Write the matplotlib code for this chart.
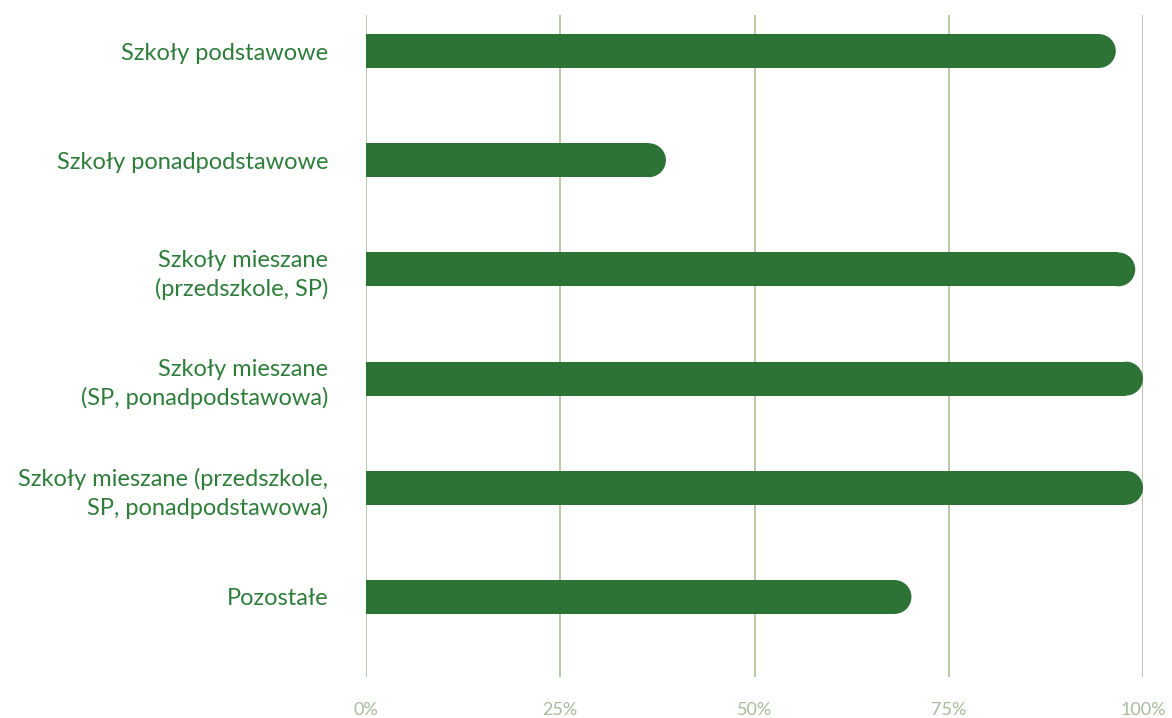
import matplotlib
matplotlib.use("Agg")
import matplotlib.pyplot as plt
import numpy as np
from matplotlib.patches import Rectangle, Ellipse

categories = [
    "Szkoły podstawowe",
    "Szkoły ponadpodstawowe",
    "Szkoły mieszane\n(przedszkole, SP)",
    "Szkoły mieszane\n(SP, ponadpodstawowa)",
    "Szkoły mieszane (przedszkole,\nSP, ponadpodstawowa)",
    "Pozostałe",
]
values = [96.5, 38.6, 99.0, 100.0, 100.0, 70.2]
xticks = [0, 25, 50, 75, 100]
xtick_labels = ["0%", "25%", "50%", "75%", "100%"]

BAR_COLOR = "#2d7336"
TEXT_COLOR = "#2e7d3a"
GRID_COLOR = "#a9c39a"
TICK_COLOR = "#a6bc9c"

W, H = 1172, 718
dpi = 100
fig = plt.figure(figsize=(W / dpi, H / dpi), dpi=dpi)
ax_left, ax_right = 366 / W, 1143 / W
ax_bottom, ax_top = (H - 677) / H, (H - 15) / H
ax = fig.add_axes([ax_left, ax_bottom, ax_right - ax_left, ax_top - ax_bottom])

ymin, ymax = 5.733, -0.33
ax.set_xlim(0, 100)
ax.set_ylim(ymin, ymax)

y = np.arange(len(categories))
bar_h = 0.31
ax_w_px = (ax_right - ax_left) * W
ax_h_px = (ax_top - ax_bottom) * H
y_per_px = (ymin - ymax) / ax_h_px
r_px = bar_h / y_per_px / 2
r_data = r_px / ax_w_px * 100

for xv in xticks:
    ax.axvline(xv, color=GRID_COLOR, lw=1.2, zorder=1)

for yi, v in zip(y, values):
    ax.add_patch(Rectangle((0, yi - bar_h / 2), v - r_data, bar_h,
                           facecolor=BAR_COLOR, edgecolor="none", zorder=2))
    ax.add_patch(Ellipse((v - r_data, yi), 2 * r_data, bar_h,
                         facecolor=BAR_COLOR, edgecolor="none", zorder=2))

for s in ax.spines.values():
    s.set_visible(False)
ax.set_yticks(y)
ax.set_yticklabels(categories, fontsize=17, color=TEXT_COLOR, family="Lato",
                   ha="right", linespacing=1.4)
ax.set_xticks(xticks)
ax.set_xticklabels(xtick_labels, fontsize=13, color=TICK_COLOR, family="Lato")
ax.tick_params(axis="y", length=0, pad=27)
ax.tick_params(axis="x", length=0, pad=18)

fig.savefig("out.png", dpi=dpi)
